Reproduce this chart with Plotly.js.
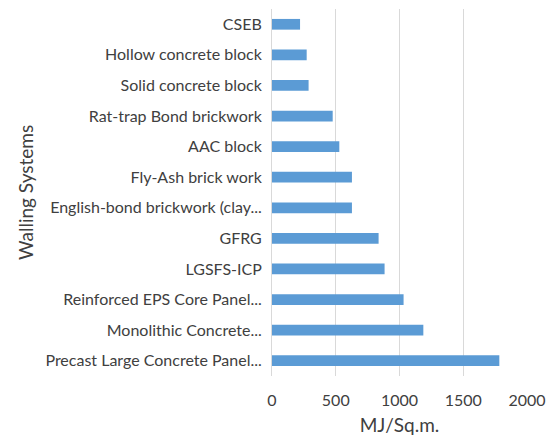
<!DOCTYPE html>
<html>
<head>
<meta charset="utf-8">
<script src="https://cdn.plot.ly/plotly-3.0.1.min.js"></script>
<style>html,body{margin:0;padding:0;background:#fff;}#chart{width:552px;height:441px;}</style>
</head>
<body>
<div id="chart"></div>
<script>
// Categories listed top to bottom as in the picture
const categories = [
  "CSEB",
  "Hollow concrete block",
  "Solid concrete block",
  "Rat-trap Bond brickwork",
  "AAC block",
  "Fly-Ash brick work",
  "English-bond brickwork (clay...",
  "GFRG",
  "LGSFS-ICP",
  "Reinforced EPS Core Panel...",
  "Monolithic Concrete...",
  "Precast Large Concrete Panel..."
];
const energyValues = [220, 272, 287, 476, 528, 627, 627, 836, 883, 1032, 1187, 1783];
const xTickValues = [0, 500, 1000, 1500, 2000];
const xTickLabels = ["0", "500", "1000", "1500", "2000"];
const xTitle = "MJ/Sq.m.";
const yTitle = "Walling Systems";

const font = "Lato, 'Open Sans', sans-serif";
const textColor = "#404040";

Plotly.newPlot("chart", [{
  type: "bar",
  orientation: "h",
  y: categories,
  x: energyValues,
  marker: {color: "#5b9bd5"},
  hoverinfo: "x+y"
}], {
  width: 552,
  height: 441,
  margin: {l: 272, r: 25, t: 9, b: 65, pad: 0},
  paper_bgcolor: "#ffffff",
  plot_bgcolor: "#ffffff",
  bargap: 0.65,
  showlegend: false,
  font: {family: font, color: textColor, size: 16},
  xaxis: {
    range: [0, 2000],
    tickvals: xTickValues,
    ticktext: xTickLabels,
    showgrid: true,
    gridcolor: "#d9d9d9",
    gridwidth: 1,
    zeroline: false,
    showline: false,
    ticks: "",
    ticklabelstandoff: 13,
    tickfont: {family: font, size: 16, color: textColor},
    title: {text: xTitle, font: {family: font, size: 19, color: textColor}, standoff: 10}
  },
  yaxis: {
    type: "category",
    autorange: "reversed",
    showgrid: false,
    zeroline: false,
    showline: true,
    linecolor: "#d9d9d9",
    linewidth: 1,
    ticks: "",
    ticklabelstandoff: 6,
    tickfont: {family: font, size: 16, color: textColor},
    title: {text: yTitle, font: {family: font, size: 19, color: textColor}, standoff: 6}
  }
}, {displayModeBar: false, staticPlot: true});
</script>
</body>
</html>
